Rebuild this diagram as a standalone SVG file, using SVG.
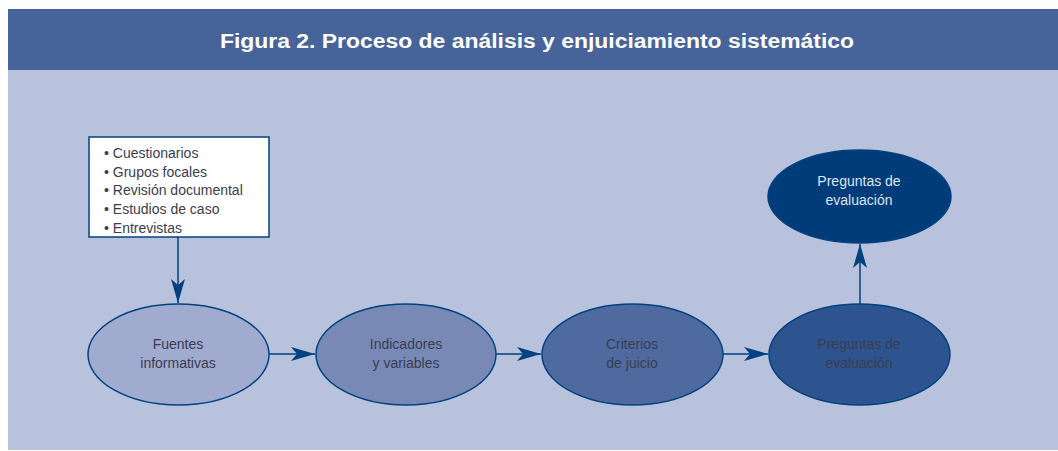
<svg xmlns="http://www.w3.org/2000/svg" width="1058" height="451" viewBox="0 0 1058 451">
<defs>
<style>
.lbl{font-family:"Liberation Sans",Arial,sans-serif;font-size:14px;fill:#3a3d50;text-anchor:middle}
.lst{font-family:"Liberation Sans",Arial,sans-serif;font-size:14px;fill:#3a3d50}
.node{stroke:#00427f;stroke-width:1.5}
.conn{stroke:#00427f;stroke-width:1.5;fill:none}
</style>
<marker id="ah" viewBox="0 0 24 14" refX="24" refY="7" markerWidth="24" markerHeight="14" markerUnits="userSpaceOnUse" orient="auto">
<path d="M0,0 L24,7 L0,14 L6,7 Z" fill="#00427f"/>
</marker>
</defs>
<rect x="8" y="9" width="1050" height="61" fill="#46639a"/>
<rect x="8" y="70" width="1050" height="380" fill="#b9c2dc"/>
<text x="537" y="48" font-family="Liberation Sans,Arial,sans-serif" font-size="20" font-weight="bold" fill="#ffffff" text-anchor="middle" textLength="634" lengthAdjust="spacingAndGlyphs">Figura 2. Proceso de análisis y enjuiciamiento sistemático</text>
<g id="connectors">
<line class="conn" x1="178" y1="237" x2="178" y2="303" marker-end="url(#ah)"/>
<line class="conn" x1="269" y1="354" x2="315" y2="354" marker-end="url(#ah)"/>
<line class="conn" x1="496" y1="354" x2="541" y2="354" marker-end="url(#ah)"/>
<line class="conn" x1="723" y1="354" x2="768" y2="354" marker-end="url(#ah)"/>
<line class="conn" x1="860" y1="304" x2="860" y2="244" marker-end="url(#ah)"/>
</g>
<g id="sources">
<rect x="89" y="137" width="180" height="100" fill="#ffffff" stroke="#00427f" stroke-width="1.5"/>
<text class="lst" x="104" y="158">• Cuestionarios</text>
<text class="lst" x="104" y="177">• Grupos focales</text>
<text class="lst" x="104" y="195">• Revisión documental</text>
<text class="lst" x="104" y="214">• Estudios de caso</text>
<text class="lst" x="104" y="233">• Entrevistas</text>
</g>
<g id="fuentes">
<ellipse class="node" cx="178.5" cy="354.5" rx="90.5" ry="50.5" fill="#a0abcf"/>
<text class="lbl" x="178" y="349">Fuentes</text>
<text class="lbl" x="178" y="368">informativas</text>
</g>
<g id="indicadores">
<ellipse class="node" cx="406" cy="354.5" rx="90" ry="50.5" fill="#7889b6"/>
<text class="lbl" x="406" y="349">Indicadores</text>
<text class="lbl" x="406" y="368">y variables</text>
</g>
<g id="criterios">
<ellipse class="node" cx="632.5" cy="354.5" rx="90.5" ry="50.5" fill="#4f6a9f"/>
<text class="lbl" x="632" y="349">Criterios</text>
<text class="lbl" x="632" y="368">de juicio</text>
</g>
<g id="preguntas">
<ellipse class="node" cx="859.5" cy="354.5" rx="90.5" ry="50.5" fill="#2d548e"/>
<text class="lbl" x="859" y="349">Preguntas de</text>
<text class="lbl" x="859" y="368">evaluación</text>
</g>
<g id="preguntas-top">
<ellipse class="node" cx="859.5" cy="196.5" rx="91.5" ry="46.5" fill="#003b7a"/>
<text class="lbl" x="859" y="186" fill="#dfe4f0" style="fill:#dfe4f0">Preguntas de</text>
<text class="lbl" x="859" y="205" style="fill:#dfe4f0">evaluación</text>
</g>
</svg>
